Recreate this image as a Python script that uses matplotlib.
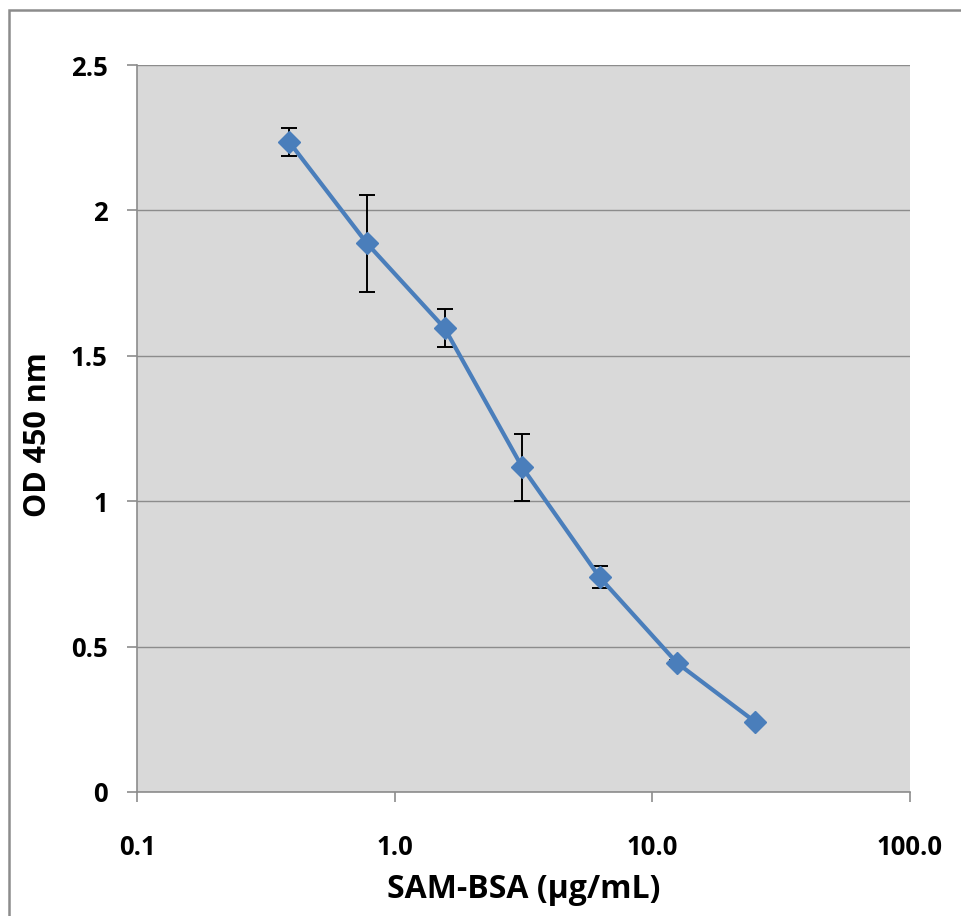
import numpy as np
import matplotlib
matplotlib.use("Agg")
import matplotlib.pyplot as plt
from matplotlib.patches import Rectangle

# SAM-BSA concentration (ug/mL) and OD450 readings
conc = [0.39, 0.78, 1.5625, 3.125, 6.25, 12.5, 25.0]
od450 = [2.235, 1.887, 1.595, 1.117, 0.738, 0.443, 0.242]
od_err = [0.047, 0.166, 0.066, 0.115, 0.038, 0.01, 0.0]

xticks = [0.1, 1.0, 10.0, 100.0]
xticklabels = ["0.1", "1.0", "10.0", "100.0"]
yticks = [0, 0.5, 1, 1.5, 2, 2.5]
yticklabels = ["0", "0.5", "1", "1.5", "2", "2.5"]

plt.rcParams['font.family'] = ['Open Sans', 'DejaVu Sans']

W, H = 961, 916
fig = plt.figure(figsize=(W/100, H/100), dpi=100)
ax = fig.add_axes([137/W, 1-792/H, (910-137)/W, (792-65)/H])

# outer chart border (right/bottom edges fall outside the picture)
fig.patches.append(Rectangle((9/W, -0.1), 1.2, 1-10/H+0.1, transform=fig.transFigure,
                             fill=False, edgecolor='#8c8c8c', linewidth=1.8))

ax.set_facecolor('#d9d9d9')
ax.set_xscale('log')
ax.set_xlim(0.1, 100)
ax.set_ylim(0, 2.5)

ax.errorbar(conc, od450, yerr=od_err, fmt='none', ecolor='black', elinewidth=1.4,
            capsize=6, capthick=1.4, zorder=2)
ax.plot(conc, od450, color='#4a7ebb', linewidth=3, marker='D', markersize=11, zorder=3)

ax.set_xticks(xticks)
ax.set_xticklabels(xticklabels)
ax.minorticks_off()
ax.set_yticks(yticks)
ax.set_yticklabels(yticklabels)
ax.yaxis.grid(True, color='#8c8c8c', linewidth=1)
ax.set_axisbelow(True)

for s in ['top', 'right']:
    ax.spines[s].set_visible(False)
for s in ['left', 'bottom']:
    ax.spines[s].set_color('#8c8c8c')
    ax.spines[s].set_linewidth(1.2)

ax.tick_params(axis='both', direction='out', length=7, width=1.2, color='#8c8c8c',
               labelsize=18.5)
for lab in ax.get_xticklabels() + ax.get_yticklabels():
    lab.set_fontweight('bold')
ax.tick_params(axis='y', pad=14)
ax.tick_params(axis='x', pad=23)

ax.set_xlabel("SAM-BSA (µg/mL)", fontsize=23, fontweight='bold')
ax.set_ylabel("OD 450 nm", fontsize=22, fontweight='bold')
ax.xaxis.set_label_coords((524-137)/773, -(890-792)/727)
ax.yaxis.set_label_coords((38-137)/773, (792-435)/727)
ax.xaxis.label.set_va('center')
ax.yaxis.label.set_va('center')

fig.savefig("out.png", dpi=100)
